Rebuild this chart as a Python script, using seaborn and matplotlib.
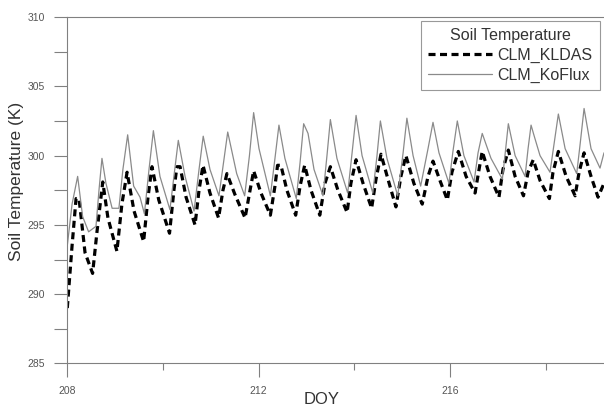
"""
Soil temperature, CLM_KLDAS vs CLM_KoFlux, DOY 208-219.
Values read off the reference chart (turning points of the daily cycle).
"""

import matplotlib

matplotlib.use("Agg")
import matplotlib.pyplot as plt
import numpy as np
import pandas as pd
import seaborn as sns
from matplotlib.ticker import MultipleLocator

# --- data ------------------------------------------------------------- #
# time as hours after the start of DOY 208
koflux_hours = [
    0, 2.4, 5.2, 7.7, 10.7, 14.4, 15.9, 17.4, 19.4, 22.5,
    25.9, 27.9, 30.3, 33.3, 36.5, 38.7, 41.0, 43.2, 46.5, 51.5,
    53.5, 55.7, 59.1, 63.6, 66.1, 68.2, 71.6, 76.1, 78.4, 80.5,
    85.0, 89.0, 91.4, 93.5, 96.2, 101.9, 104.2, 106.2, 109.2, 114.9,
    116.8, 118.6, 120.8, 123.8, 128.3, 130.3, 132.0, 135.3, 140.7, 142.9,
    144.9, 147.9, 153.3, 155.4, 157.1, 160.4, 165.8, 168.5, 170.4, 173.5,
    177.3, 181.0, 183.5, 186.5, 191.5, 193.5, 195.7, 199.0, 204.1, 206.1,
    208.2, 209.9, 212.6, 218.3, 219.6, 221.3, 224.7, 229.7, 231.2, 232.7,
    234.3, 237.2, 242.2, 244.2, 246.4, 249.8, 255.6, 257.3, 259.3, 262.8,
    267.3, 269.3,
]
koflux_temp = [
    293.5, 296.5, 298.5, 295.6, 294.5, 294.9, 297.5, 299.8, 298.0, 296.2,
    296.2, 299.0, 301.5, 297.8, 297.0, 295.8, 299.0, 301.8, 298.5, 296.1,
    298.5, 301.1, 298.5, 296.0, 299.0, 301.4, 299.0, 297.1, 299.5, 301.7,
    298.7, 297.1, 300.0, 303.1, 300.5, 297.1, 299.8, 302.2, 299.8, 296.9,
    299.5, 302.3, 301.6, 299.0, 297.1, 300.0, 302.6, 299.8, 297.3, 300.2,
    302.9, 300.0, 297.3, 300.0, 302.5, 299.8, 297.1, 300.2, 302.7, 300.0,
    297.8, 300.5, 302.4, 300.2, 298.0, 300.3, 302.5, 300.0, 298.1, 300.2,
    301.6, 300.9, 299.8, 298.3, 300.0, 302.3, 300.0, 298.5, 300.5, 302.2,
    301.4, 300.0, 298.8, 300.8, 303.0, 300.5, 298.7, 300.8, 303.4, 300.5,
    299.1, 300.2,
]

kldas_hours = [
    0, 2.4, 4.4, 5.9, 8.9, 12.7, 14.9, 17.8, 20.4, 24.9,
    27.4, 30.0, 33.5, 38.3, 40.5, 42.5, 45.9, 51.3, 53.5, 55.0,
    56.6, 59.6, 64.1, 66.1, 68.1, 71.6, 75.9, 78.1, 80.1, 84.1,
    89.2, 91.7, 93.5, 97.2, 101.9, 104.2, 105.5, 107.2, 110.2, 114.6,
    116.8, 119.1, 122.3, 126.7, 129.3, 132.0, 135.8, 140.4, 142.3, 144.9,
    148.4, 152.7, 154.9, 157.4, 160.9, 164.9, 167.4, 169.9, 173.9, 178.1,
    181.0, 183.5, 187.0, 190.7, 193.0, 196.2, 200.1, 204.6, 206.6, 208.2,
    212.1, 216.6, 218.6, 221.3, 224.7, 228.9, 231.2, 233.8, 237.2, 241.9,
    243.7, 246.4, 250.3, 254.8, 256.8, 259.3, 262.8, 266.3, 269.3,
]
kldas_temp = [
    289.0, 293.5, 296.9, 296.9, 293.0, 291.5, 294.5, 298.1, 295.5, 293.1,
    296.5, 298.8, 296.0, 293.8, 297.0, 299.2, 296.8, 294.4, 297.5, 299.2,
    299.2, 297.0, 295.0, 297.5, 299.3, 297.3, 295.5, 297.5, 298.7, 297.2,
    295.5, 297.5, 298.9, 297.3, 295.7, 297.8, 299.3, 299.3, 297.5, 295.7,
    297.8, 299.3, 297.5, 295.7, 298.0, 299.2, 297.5, 295.9, 298.0, 299.7,
    298.0, 296.2, 298.3, 300.1, 298.3, 296.3, 298.5, 300.0, 298.0, 296.5,
    298.5, 299.6, 298.2, 296.8, 298.8, 300.3, 298.5, 297.3, 299.0, 300.3,
    298.5, 297.0, 299.0, 300.4, 298.5, 297.1, 298.8, 299.7, 298.2, 296.9,
    298.8, 300.3, 298.5, 297.1, 298.8, 300.2, 298.5, 297.0, 298.0,
]

x_major = [208, 212, 216]
y_major = [285, 290, 295, 300, 305, 310]

START_DOY = 208
GRID = "#808080"
TEXT = "#555555"

kldas = pd.DataFrame({"DOY": START_DOY + np.array(kldas_hours) / 24, "T": kldas_temp})
koflux = pd.DataFrame({"DOY": START_DOY + np.array(koflux_hours) / 24, "T": koflux_temp})

# --- style ------------------------------------------------------------ #
sns.set_style("ticks")
plt.rcParams["font.family"] = ["Liberation Sans", "DejaVu Sans"]

fig = plt.figure(figsize=(6.04, 4.07), dpi=100)
ax = fig.add_axes([0.1114, 0.1069, 0.8886, 0.8513])

sns.lineplot(data=kldas, x="DOY", y="T", ax=ax, color="black", lw=2.3,
             linestyle=(0, (2.2, 1.4)), estimator=None, label="CLM_KLDAS")
sns.lineplot(data=koflux, x="DOY", y="T", ax=ax, color="#8a8a8a", lw=0.9,
             estimator=None, label="CLM_KoFlux")

ax.set_xlim(START_DOY, START_DOY + 269.3 / 24)
ax.set_ylim(285, 310)
ax.set_xticks(x_major)
ax.xaxis.set_minor_locator(MultipleLocator(2))
ax.set_yticks(y_major)
ax.yaxis.set_minor_locator(MultipleLocator(2.5))

for side in ["left", "bottom", "top"]:
    ax.spines[side].set_color(GRID)
    ax.spines[side].set_linewidth(0.8)
ax.spines["right"].set_visible(False)

ax.tick_params(axis="x", which="major", length=10, width=0.8, color=GRID,
               labelsize=7.5, labelcolor=TEXT, pad=6)
ax.tick_params(axis="x", which="minor", length=5, width=0.8, color=GRID)
ax.tick_params(axis="y", which="both", length=9.5, width=0.8, color=GRID,
               labelsize=7.5, labelcolor=TEXT, pad=6.5)

ax.set_xlabel("DOY", fontsize=12, color="#333333")
ax.xaxis.set_label_coords(0.4746, -0.082)
ax.set_ylabel("Soil Temperature (K)", fontsize=12.5, color="#333333")
ax.yaxis.set_label_coords(-0.081, 0.524)

leg = ax.legend(title="Soil Temperature", loc="upper right",
                bbox_to_anchor=(0.9925, 0.9885), fontsize=11.5,
                title_fontsize=11.5, frameon=True, fancybox=False,
                handlelength=4.0, handletextpad=0.35, borderpad=0.45,
                labelspacing=0.3, borderaxespad=0)
leg.get_frame().set_edgecolor(GRID)
leg.get_frame().set_linewidth(0.8)
for t in leg.get_texts():
    t.set_color("#333333")
leg.get_title().set_color("#333333")

fig.savefig("out.png", dpi=100)
